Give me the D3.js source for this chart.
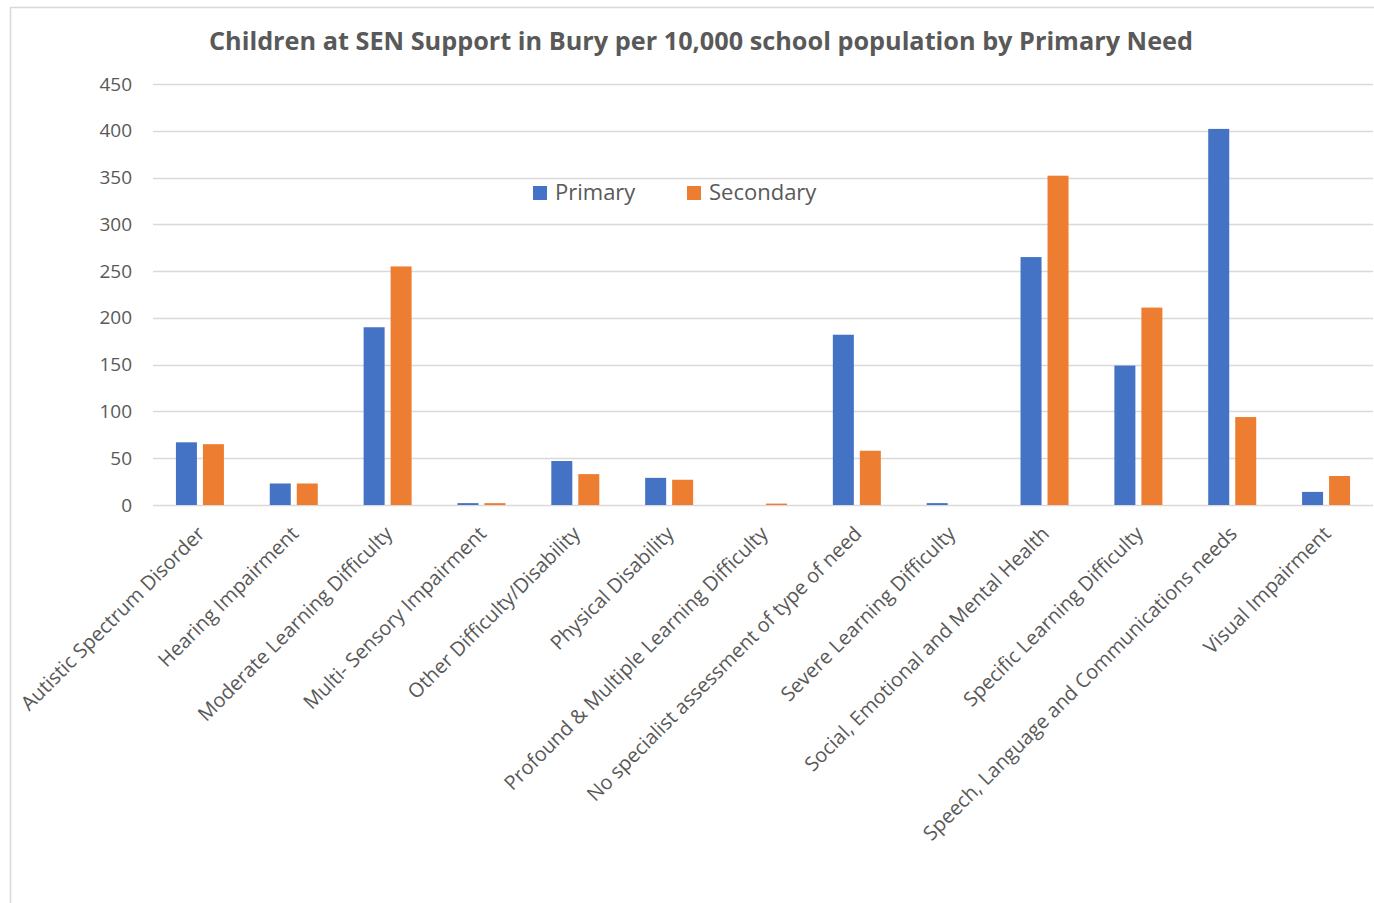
<!DOCTYPE html>
<html>
<head>
<meta charset="utf-8">
<script src="https://cdn.jsdelivr.net/npm/d3@7"></script>
<style>
  html, body { margin: 0; padding: 0; background: #fff; }
  svg { display: block; }
  text { font-family: "Open Sans", "Noto Sans", sans-serif; fill: #595959; }
</style>
</head>
<body>
<svg id="chart" width="1374" height="903"></svg>
<script>
// Rates per 10,000 school population, by primary need
const categories = [
  "Autistic Spectrum Disorder",
  "Hearing Impairment",
  "Moderate Learning Difficulty",
  "Multi- Sensory Impairment",
  "Other Difficulty/Disability",
  "Physical Disability",
  "Profound & Multiple Learning Difficulty",
  "No specialist assessment of type of need",
  "Severe Learning Difficulty",
  "Social, Emotional and Mental Health",
  "Specific Learning Difficulty",
  "Speech, Language and Communications needs",
  "Visual Impairment"
];
const seriesNames = ["Primary", "Secondary"];
const primaryValues   = [67, 23, 190, 2, 47, 29, 0, 182, 2, 265, 149, 402, 14];
const secondaryValues = [65, 23, 255, 2, 33, 27, 1.5, 58, 0, 352, 211, 94, 31];
const yTicks = [0, 50, 100, 150, 200, 250, 300, 350, 400, 450];
const colors = ["#4472C4", "#ED7D31"];
const title = "Children at SEN Support in Bury per 10,000 school population by Primary Need";

const svg = d3.select("#chart");

// chart area frame
svg.append("path")
  .attr("d", "M10.5,903 V7.5 H1374")
  .attr("fill", "none")
  .attr("stroke", "#d9d9d9")
  .attr("stroke-width", 1.5);

const plot = { left: 153, right: 1373, top: 84, bottom: 505 };

const x0 = d3.scaleBand().domain(categories).range([plot.left, plot.right]).paddingInner(0).paddingOuter(0);
const y = d3.scaleLinear().domain([0, 450]).range([plot.bottom, plot.top]);

// gridlines
svg.append("g")
  .selectAll("line")
  .data(yTicks)
  .join("line")
  .attr("x1", plot.left).attr("x2", plot.right)
  .attr("y1", d => Math.round(y(d)) + 0.5).attr("y2", d => Math.round(y(d)) + 0.5)
  .attr("stroke", "#d9d9d9")
  .attr("stroke-width", 1.5);

// y axis tick labels
const yAxis = d3.axisLeft(y).tickValues(yTicks).tickSize(0).tickPadding(0);
const yg = svg.append("g").attr("transform", `translate(132,0)`).call(yAxis);
yg.select(".domain").remove();
yg.selectAll("text")
  .attr("font-size", 19)
  .attr("fill", "#595959")
  .style("font-family", '"Open Sans", sans-serif');

// bars
const barW = 21, gap = 6;
const rows = categories.map((c, i) => ({ c, vals: [primaryValues[i], secondaryValues[i]] }));
const groups = svg.append("g").selectAll("g")
  .data(rows).join("g")
  .attr("transform", d => `translate(${x0(d.c) + x0.bandwidth() / 2},0)`);
groups.selectAll("rect")
  .data(d => d.vals.map((v, k) => ({ v, k })))
  .join("rect")
  .attr("x", d => d.k === 0 ? -(barW + gap / 2) : gap / 2)
  .attr("width", barW)
  .attr("y", d => y(d.v))
  .attr("height", d => plot.bottom - y(d.v))
  .attr("fill", d => colors[d.k]);

// x axis category labels, rotated
const xAxis = d3.axisBottom(x0).tickSize(0).tickPadding(0);
const xg = svg.append("g").attr("transform", `translate(0,${plot.bottom})`).call(xAxis);
xg.select(".domain").remove();
xg.selectAll("text")
  .attr("font-size", 20)
  .attr("fill", "#595959")
  .style("font-family", '"Open Sans", sans-serif')
  .attr("text-anchor", "end")
  .attr("dy", null)
  .attr("y", 0)
  .attr("transform", "translate(6,30) rotate(-45)");

// title
svg.append("text")
  .attr("x", 701).attr("y", 50)
  .attr("text-anchor", "middle")
  .attr("font-size", 25)
  .attr("font-weight", "bold")
  .attr("fill", "#595959")
  .attr("textLength", 984)
  .attr("lengthAdjust", "spacingAndGlyphs")
  .text(title);

// legend
const legend = svg.append("g");
const legendX = [533, 687];
seriesNames.forEach((name, i) => {
  legend.append("rect")
    .attr("x", legendX[i]).attr("y", 186)
    .attr("width", 14).attr("height", 14)
    .attr("fill", colors[i]);
  legend.append("text")
    .attr("x", legendX[i] + 22).attr("y", 200)
    .attr("font-size", 22)
    .attr("fill", "#595959")
    .text(name);
});
</script>
</body>
</html>
